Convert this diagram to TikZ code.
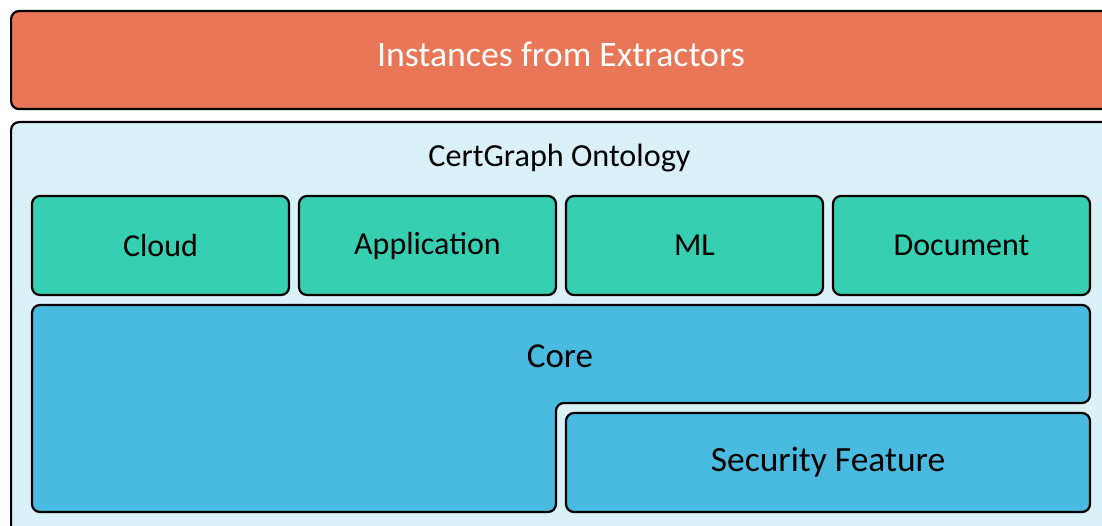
\documentclass[tikz,border=0pt]{standalone}
\usepackage{fontspec}
\setmainfont{Carlito}
\definecolor{orangebox}{RGB}{233,118,86}
\definecolor{ontobg}{RGB}{219,241,248}
\definecolor{greenbox}{RGB}{54,207,177}
\definecolor{bluebox}{RGB}{74,187,224}
\tikzset{
  layerbox/.style={draw=black, line width=2.2pt, rounded corners=8pt, inner sep=0pt},
  modbox/.style={layerbox, fill=greenbox, minimum width=257pt, minimum height=99pt, font=\fontsize{32}{36}\selectfont},
}
\begin{document}
\begin{tikzpicture}[x=1pt,y=-1pt]
\useasboundingbox (0,0) rectangle (1102,526);
\clip (0,0) rectangle (1102,526);
\fill[white] (0,0) rectangle (1102,526);
% top layer
\node[layerbox, fill=orangebox, minimum width=1104pt, minimum height=98pt, anchor=north west] (inst) at (10,10) {};
\node[anchor=base, text=white, font=\fontsize{35.8}{40}\selectfont] (insttext) at (561,67) {Instances from Extractors};
% ontology container
\node[layerbox, fill=ontobg, minimum width=1104pt, minimum height=420pt, anchor=north west] (onto) at (10,121) {};
\node[anchor=base, font=\fontsize{32.2}{36}\selectfont] (ontotext) at (559.5,167) {CertGraph Ontology};
% modules
\node[modbox] (cloud) at (160.5,245.5) {Cloud};
\node[modbox] (app) at (427.5,245.5) {Application};
\node[modbox] (ml) at (694.5,245.5) {ML};
\node[modbox] (doc) at (961.5,245.5) {Document};
% core
\draw[layerbox, fill=bluebox] (32,305) -- (1090,305) -- (1090,403) -- (556,403) -- (556,512) -- (32,512) -- cycle;
\node[anchor=base, font=\fontsize{35}{40}\selectfont] (core) at (560,367) {Core};
% security feature
\node[layerbox, fill=bluebox, minimum width=524pt, minimum height=99pt, font=\fontsize{35.5}{40}\selectfont] (sec) at (828,462.5) {Security Feature};
\end{tikzpicture}
\end{document}
